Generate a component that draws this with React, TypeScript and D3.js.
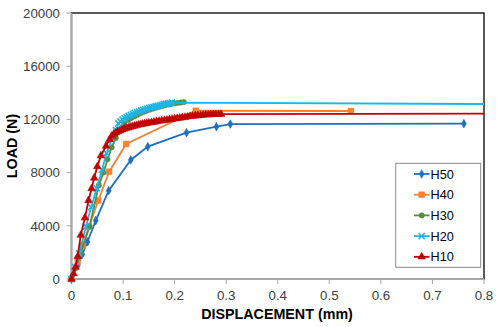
import React from "react";
import * as d3 from "d3";

const seriesNames = ["H50", "H40", "H30", "H20", "H10"];
const seriesColors = ["#1f6fbf", "#ef8434", "#5a8c3c", "#1fb4e6", "#c00000"];

const h50: [number, number][] = [
  [0, 0], [0.012, 1000], [0.021, 1860], [0.031, 2800], [0.047, 4390], [0.072, 6640],
  [0.115, 8950], [0.148, 9950], [0.223, 11000], [0.281, 11450], [0.308, 11650], [0.761, 11680],
];
const h40: [number, number][] = [
  [0, 0], [0.012, 1300], [0.022, 2500], [0.034, 3950], [0.052, 5900], [0.073, 8070],
  [0.106, 10150], [0.241, 12650], [0.542, 12630],
];
const h30: [number, number][] = [
  [0, 0], [0.008, 800], [0.018, 1980], [0.035, 3930], [0.053, 7050], [0.062, 8000],
  [0.070, 9000], [0.078, 9900], [0.086, 10600], [0.094, 11250], [0.102, 11700],
  [0.110, 11950], [0.116, 12100], [0.122, 12220], [0.128, 12350], [0.134, 12460],
  [0.140, 12560], [0.146, 12650], [0.152, 12730], [0.158, 12810], [0.164, 12880],
  [0.170, 12950], [0.176, 13010], [0.182, 13070], [0.188, 13120], [0.194, 13170],
  [0.200, 13210], [0.206, 13240], [0.212, 13270], [0.218, 13300],
];
const h20: [number, number][] = [
  [0, 0], [0.007, 900], [0.015, 1930], [0.028, 3930], [0.038, 5400], [0.049, 6820],
  [0.059, 8200], [0.068, 9450], [0.078, 10450], [0.086, 11200], [0.091, 11700],
  [0.095, 11850], [0.099, 11980], [0.103, 12080], [0.107, 12170], [0.111, 12260],
  [0.115, 12340], [0.119, 12410], [0.123, 12480], [0.127, 12540], [0.131, 12600],
  [0.135, 12660], [0.139, 12710], [0.143, 12760], [0.147, 12810], [0.151, 12860],
  [0.155, 12900], [0.159, 12940], [0.163, 12980], [0.167, 13020], [0.171, 13060],
  [0.175, 13100], [0.179, 13140], [0.183, 13170], [0.187, 13200], [0.191, 13230],
  [0.195, 13260], [0.85, 13150],
];
const h10: [number, number][] = [
  [0, 0], [0.004, 400], [0.008, 900], [0.012, 1700], [0.018, 3300], [0.026, 4600],
  [0.033, 5900], [0.039, 6800], [0.044, 7600], [0.050, 8450], [0.057, 9270],
  [0.067, 10000], [0.074, 10500], [0.078, 10750], [0.082, 10900], [0.086, 11000],
  [0.090, 11080], [0.094, 11150], [0.098, 11220], [0.102, 11280], [0.106, 11330],
  [0.110, 11380], [0.114, 11430], [0.118, 11470], [0.122, 11510], [0.126, 11550],
  [0.130, 11590], [0.134, 11620], [0.138, 11650], [0.142, 11680], [0.146, 11710],
  [0.150, 11740], [0.155, 11770], [0.160, 11800], [0.165, 11840], [0.170, 11870],
  [0.175, 11900], [0.180, 11930], [0.185, 11960], [0.190, 11990], [0.195, 12020],
  [0.200, 12050], [0.205, 12080], [0.210, 12110], [0.215, 12140], [0.220, 12170],
  [0.225, 12200], [0.230, 12230], [0.235, 12250], [0.240, 12270], [0.245, 12290],
  [0.250, 12310], [0.255, 12330], [0.260, 12345], [0.265, 12360], [0.270, 12370],
  [0.275, 12380], [0.280, 12385], [0.285, 12390], [0.290, 12395], [0.85, 12430],
];
const seriesData = [h50, h40, h30, h20, h10];

const xTicks = [0, 0.1, 0.2, 0.3, 0.4, 0.5, 0.6, 0.7, 0.8];
const yTicks = [0, 4000, 8000, 12000, 16000, 20000];

const symbols = [d3.symbolDiamond, d3.symbolSquare, d3.symbolCircle, d3.symbolX, d3.symbolTriangle];
const symbolSizes = [22, 34, 22, 26, 26];

const font = "'Liberation Sans', Arial, sans-serif";

export default function App() {
  const W = 500, H = 327;
  const x = d3.scaleLinear().domain([0, 0.8]).range([71.5, 484]);
  const y = d3.scaleLinear().domain([0, 20000]).range([279, 13]);
  const line = d3.line<[number, number]>().x((d) => x(d[0])).y((d) => y(d[1]));

  const marker = (i: number, cx: number, cy: number, key: string) => {
    const p = d3.symbol().type(symbols[i]).size(symbolSizes[i])() || "";
    const isX = i === 3;
    return (
      <path
        key={key}
        d={p}
        transform={`translate(${cx},${cy})`}
        fill={isX ? "none" : seriesColors[i]}
        stroke={seriesColors[i]}
        strokeWidth={isX ? 1.6 : 0.5}
      />
    );
  };

  const [x0, x1] = x.range();
  const [yb, yt] = y.range();

  return (
    <svg width={W} height={H} style={{ position: "absolute", left: 0, top: 0, background: "#fff" }}>
      <defs>
        <clipPath id="plotclip">
          <rect x={x0} y={yt} width={x1 - x0} height={yb - yt} />
        </clipPath>
      </defs>
      <rect x={0} y={0} width={W} height={H} fill="#fff" />
      {/* plot border */}
      <rect x={x0} y={yt} width={x1 - x0} height={yb - yt} fill="none" stroke="#000" strokeWidth={1.3} />
      {/* axes */}
      <line x1={x0} x2={x0} y1={yt} y2={yb} stroke="#a6a6a6" strokeWidth={1.8} />
      <line x1={x0} x2={x1} y1={yb} y2={yb} stroke="#a6a6a6" strokeWidth={1.8} />
      {yTicks.map((t) => (
        <g key={"y" + t}>
          <line x1={x0 - 5} x2={x0} y1={y(t)} y2={y(t)} stroke="#a6a6a6" strokeWidth={1} />
          <text x={60} y={y(t) + 4.7} textAnchor="end" fontFamily={font} fontSize={13.3} fill="#404040">
            {t}
          </text>
        </g>
      ))}
      {xTicks.map((t) => (
        <g key={"x" + t}>
          <line x1={x(t)} x2={x(t)} y1={yb} y2={yb + 5} stroke="#a6a6a6" strokeWidth={1} />
          <text x={x(t)} y={300} textAnchor="middle" fontFamily={font} fontSize={13.3} fill="#404040">
            {t}
          </text>
        </g>
      ))}
      <text x={277} y={318.5} textAnchor="middle" fontFamily={font} fontSize={14.3} fontWeight="bold" fill="#000">
        DISPLACEMENT (mm)
      </text>
      <text
        transform={`translate(17,146) rotate(-90)`}
        textAnchor="middle"
        fontFamily={font}
        fontSize={14.3}
        fontWeight="bold"
        fill="#000"
      >
        LOAD (N)
      </text>
      {/* series */}
      {seriesData.map((data, i) => (
        <g key={seriesNames[i]}>
          <path d={line(data) || ""} fill="none" stroke={seriesColors[i]} strokeWidth={1.8} clipPath="url(#plotclip)" />
          {data
            .filter((d) => d[0] <= 0.8)
            .map((d, j) => marker(i, x(d[0]), y(d[1]), seriesNames[i] + j))}
        </g>
      ))}
      {/* legend */}
      <rect x={395.7} y={163.3} width={85} height={104} fill="#fff" stroke="#8c8c8c" strokeWidth={1} />
      {seriesNames.map((n, i) => {
        const cy = 174 + i * 20.7;
        return (
          <g key={"lg" + n}>
            <line x1={414} x2={429.5} y1={cy} y2={cy} stroke={seriesColors[i]} strokeWidth={1.8} />
            {marker(i, 421.7, cy, "lgm" + n)}
            <text x={430.5} y={cy + 4.5} fontFamily={font} fontSize={12.7} fill="#000">
              {n}
            </text>
          </g>
        );
      })}
    </svg>
  );
}
